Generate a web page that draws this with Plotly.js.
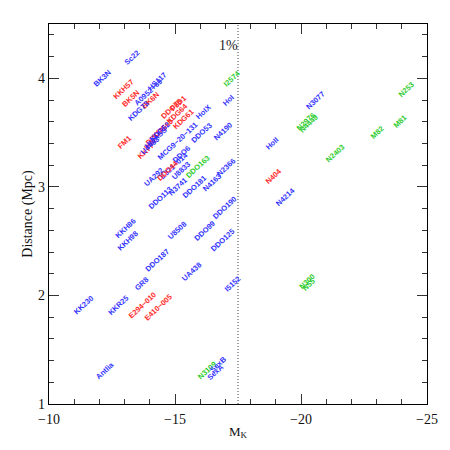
<!DOCTYPE html>
<html>
<head>
<meta charset="utf-8">
<script src="https://cdn.plot.ly/plotly-3.0.1.min.js"></script>
<style>html,body{margin:0;padding:0;background:#fff;}#chart{width:450px;height:450px;}</style>
</head>
<body>
<div id="chart"></div>
<script>
// Galaxy labels, absolute K magnitude (M_K), distance (Mpc), class
const names = ["Sc22","BK3N","KKH57","BK5N","A0952+69","HS117","BK6N","KDG73","F8D1","DDO78","KDG64","KDG61","HoIX","HoI","DDO53","N4190","FM1",
  "KDG63","DDO71","IKN","KK77","KDG52","HIJASS","U4483","MCG9\u221220\u2212131","DDO6","E321\u2212014","U8833","DDO44","UA292","DDO163","N2366",
  "N3741","DDO113","DDO181","N4163","DDO190","KKH86","KKH98","U8508","DDO99","DDO125","DDO187","UA438","GR8","KK230","KKR25","E294\u2212010","E410\u2212005",
  "Antlia","I5152","N300","N55","N3109","SexB","SexA","I2574","N2976","N4449","N3077","HoII","N2403","M82","M81","N253","N404","N4214"];
const mK = [-13.29,-12.10,-12.94,-13.25,-13.93,-14.29,-14.01,-13.57,-15.12,-14.88,-15.08,-15.32,-16.15,-17.10,-16.07,-16.90,-12.98,
  -14.52,-14.25,-14.01,-13.81,-14.40,-14.21,-14.01,-15.08,-15.24,-14.96,-15.24,-14.72,-14.13,-15.91,-17.02,
  -15.12,-14.44,-15.79,-16.47,-16.98,-13.02,-13.13,-15.08,-16.19,-16.87,-14.29,-15.67,-13.69,-11.35,-12.74,-13.69,-14.33,
  -12.22,-17.30,-20.24,-20.32,-16.27,-16.71,-16.59,-17.26,-20.20,-20.32,-20.56,-18.85,-21.35,-23.02,-23.93,-24.17,-18.89,-19.40];
const dist = [4.195,4.00,3.90,3.81,3.87,3.97,3.80,3.70,3.77,3.72,3.68,3.62,3.69,3.80,3.50,3.51,3.41,
  3.54,3.47,3.39,3.33,3.51,3.45,3.38,3.42,3.30,3.20,3.15,3.15,3.09,3.19,3.18,
  3.00,2.90,3.00,3.04,2.81,2.62,2.51,2.60,2.60,2.51,2.32,2.22,2.11,1.91,1.91,1.91,1.89,
  1.31,2.11,2.13,2.10,1.31,1.36,1.29,4.00,3.60,3.58,3.80,3.40,3.31,3.50,3.60,3.90,3.10,2.91];
// b = blue (irregular), r = red (early type), g = green (spiral)
const cls = ["b","b","r","r","b","b","r","b","r","r","r","r","b","b","b","b","r",
  "r","r","r","r","b","b","b","b","b","b","b","r","b","g","b",
  "b","b","b","b","b","b","b","b","b","b","b","b","b","b","b","r","r",
  "b","b","g","g","g","b","b","g","g","g","b","b","g","g","g","g","r","b"];
const limitMK = -17.5;
const limitLabel = "1%";
const limitLabelPos = [-17.14, 4.30];
const xTicks = [-10,-15,-20,-25];
const yTicks = [1,2,3,4];

const colorOf = {b:"#3333ff", r:"#ff2a2a", g:"#2ecc2e"};
const serif = "Liberation Serif, Times New Roman, serif";

const annotations = names.map((n,i)=>({
  x: mK[i], y: dist[i], xref:"x", yref:"y", text: n, showarrow:false,
  textangle: -43, font:{family:"Liberation Sans, Arial, sans-serif", size:7.5, weight:"bold", color: colorOf[cls[i]]},
  xanchor:"center", yanchor:"middle"
}));
annotations.push({x: limitLabelPos[0], y: limitLabelPos[1], xref:"x", yref:"y", text: limitLabel,
  showarrow:false, font:{family:serif, size:14, color:"#222"}, xanchor:"center", yanchor:"middle"});

const trace = {x: mK, y: dist, mode:"markers", type:"scatter", marker:{opacity:0}, hoverinfo:"skip", showlegend:false};

const axisCommon = {
  showgrid:false, zeroline:false, showline:true, linecolor:"#000", linewidth:1.3, mirror:"allticks",
  ticks:"inside", ticklen:10, tickwidth:1, tickcolor:"#333",
  tickfont:{family:serif, size:14, color:"#111"}
};

const layout = {
  width:450, height:450,
  margin:{l:49, r:23, t:24, b:46, pad:0},
  paper_bgcolor:"#fff", plot_bgcolor:"#fff",
  xaxis: Object.assign({}, axisCommon, {
    range:[-10,-25], tickvals:xTicks, ticktext:xTicks.map(v=>"\u2212"+Math.abs(v)),
    ticklabelstandoff:2,
    minor:{dtick:1, tick0:0, ticks:"inside", ticklen:5, tickcolor:"#333", showgrid:false},
    title:{text:"M<sub>K</sub>", font:{family:serif, size:13, color:"#111"}, standoff:0}
  }),
  yaxis: Object.assign({}, axisCommon, {
    range:[1,4.5], tickvals:yTicks, ticktext:yTicks.map(String),
    minor:{dtick:0.2, tick0:0, ticks:"inside", ticklen:5, tickcolor:"#333", showgrid:false},
    title:{text:"Distance (Mpc)", font:{family:serif, size:14, color:"#111"}, standoff:2}
  }),
  shapes:[{type:"line", xref:"x", yref:"paper", x0:limitMK, x1:limitMK, y0:0, y1:1,
    line:{color:"#444", width:1, dash:"1px,2px"}}],
  annotations: annotations
};

Plotly.newPlot("chart", [trace], layout, {staticPlot:true, displayModeBar:false});
</script>
</body>
</html>
